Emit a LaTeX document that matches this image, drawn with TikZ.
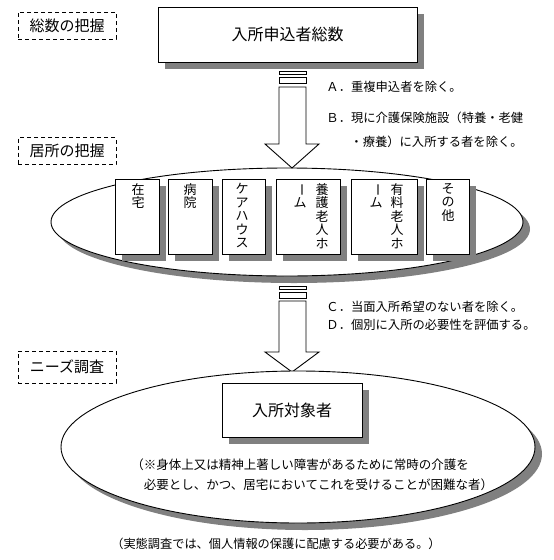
\documentclass[tikz,border=0pt]{standalone}
\usepackage{fontspec}
\setmainfont{Noto Sans CJK JP}
\usepackage{graphicx}
\usetikzlibrary{shadows,shapes.geometric}
\definecolor{shadowgray}{HTML}{808080}
\newcommand{\vbar}{\rotatebox[origin=c]{-90}{ー}}
\begin{document}
\begin{tikzpicture}[x=1pt,y=-1pt, line width=0.9pt,
  shd/.style={drop shadow={shadow xshift=7pt,shadow yshift=-7pt,fill=shadowgray,opacity=1}},
  mainbox/.style={draw, fill=white, shd, inner sep=0pt, font=\fontsize{16}{18}\selectfont},
  labelbox/.style={draw, dash pattern=on 4pt off 3pt, minimum width=98pt, inner sep=0pt, font=\fontsize{15}{17}\selectfont},
  colbox/.style={draw, fill=white, shd, minimum height=75pt, inner sep=0pt},
  vtext/.style={anchor=north, inner sep=0pt, align=center, font=\fontsize{13}{13.5}\selectfont},
  note/.style={anchor=west, inner sep=0pt, font=\fontsize{12.3}{14}\selectfont},
  blockarrow/.style={draw, fill=white, line join=miter},
  oval/.style={ellipse, draw, fill=white, shd, inner sep=0pt}
]
\fill[white] (0,0) rectangle (554,560);
\useasboundingbox (0,0) rectangle (554,560);

% stage labels
\node[labelbox, minimum height=27pt] (lab1) at (67,25.5) {総数の把握};
\node[labelbox, minimum height=27pt] (lab2) at (67,151) {居所の把握};
\node[labelbox, minimum height=32pt] (lab3) at (67,367) {ニーズ調査};

% top box
\node[mainbox, minimum width=259pt, minimum height=55pt] (total) at (287.5,34.5) {入所申込者総数};

% residence ellipse
\node[oval, minimum width=472pt, minimum height=108pt] (resid) at (287,222) {};

% arrow 1
\coordinate (tip1) at (292,168);
\draw[blockarrow] (279,71) rectangle (306,74);
\draw[blockarrow] (279,77) rectangle (306,83);
\draw[blockarrow] (279,87) -- (306,87) -- (306,144) -- (319,144) -- (tip1) -- (265,144) -- (279,144) -- cycle;

\node[note] (ta) at (326,87) {Ａ．重複申込者を除く。};
\node[note] (tb1) at (326,118) {Ｂ．現に介護保険施設（特養・老健};
\node[note] (tb2) at (350,142) {・療養）に入所する者を除く。};

% residence boxes
\node[colbox, minimum width=44pt] (b1) at (137,216.5) {};
\node[colbox, minimum width=44pt] (b2) at (190,216.5) {};
\node[colbox, minimum width=43pt] (b3) at (243.5,216.5) {};
\node[colbox, minimum width=64pt] (b4) at (308,216.5) {};
\node[colbox, minimum width=66pt] (b5) at (384,216.5) {};
\node[colbox, minimum width=43pt] (b6) at (447.5,216.5) {};

\node[vtext] (t1) at (138,183) {在\\宅};
\node[vtext] (t2) at (190,183) {病\\院};
\node[vtext] (t3) at (242,183) {ケ\\ア\\ハ\\ウ\\ス};
\node[vtext] (t4a) at (322,183) {養\\護\\老\\人\\ホ};
\node[vtext] (t4b) at (300,183) {\vbar\\ム};
\node[vtext] (t5a) at (397,183) {有\\料\\老\\人\\ホ};
\node[vtext] (t5b) at (376,183) {\vbar\\ム};
\node[vtext] (t6) at (448,183) {そ\\の\\他};

% arrow 2
\coordinate (tip2) at (292,372);
\draw[blockarrow] (279,286) rectangle (306,289);
\draw[blockarrow] (279,292) rectangle (306,298);
\draw[blockarrow] (279,301) -- (306,301) -- (306,352) -- (319,352) -- (tip2) -- (265,352) -- (279,352) -- cycle;

\node[note] (tc) at (326,307) {Ｃ．当面入所希望のない者を除く。};
\node[note] (td) at (326,325) {Ｄ．個別に入所の必要性を評価する。};

% target ellipse
\node[oval, minimum width=474pt, minimum height=152pt] (target) at (298,447) {};
\node[mainbox, minimum width=140pt, minimum height=54pt] (tbox) at (292,410) {入所対象者};

\node[note, font=\fontsize{12.5}{14}\selectfont] (n1) at (131,465) {（※身体上又は精神上著しい障害があるために常時の介護を};
\node[note, font=\fontsize{12.5}{14}\selectfont] (n2) at (131,485) {　必要とし、かつ、居宅においてこれを受けることが困難な者）};

\node[inner sep=0pt, font=\fontsize{12.2}{14}\selectfont] (n3) at (276,544) {（実態調査では、個人情報の保護に配慮する必要がある。）};
\end{tikzpicture}
\end{document}
